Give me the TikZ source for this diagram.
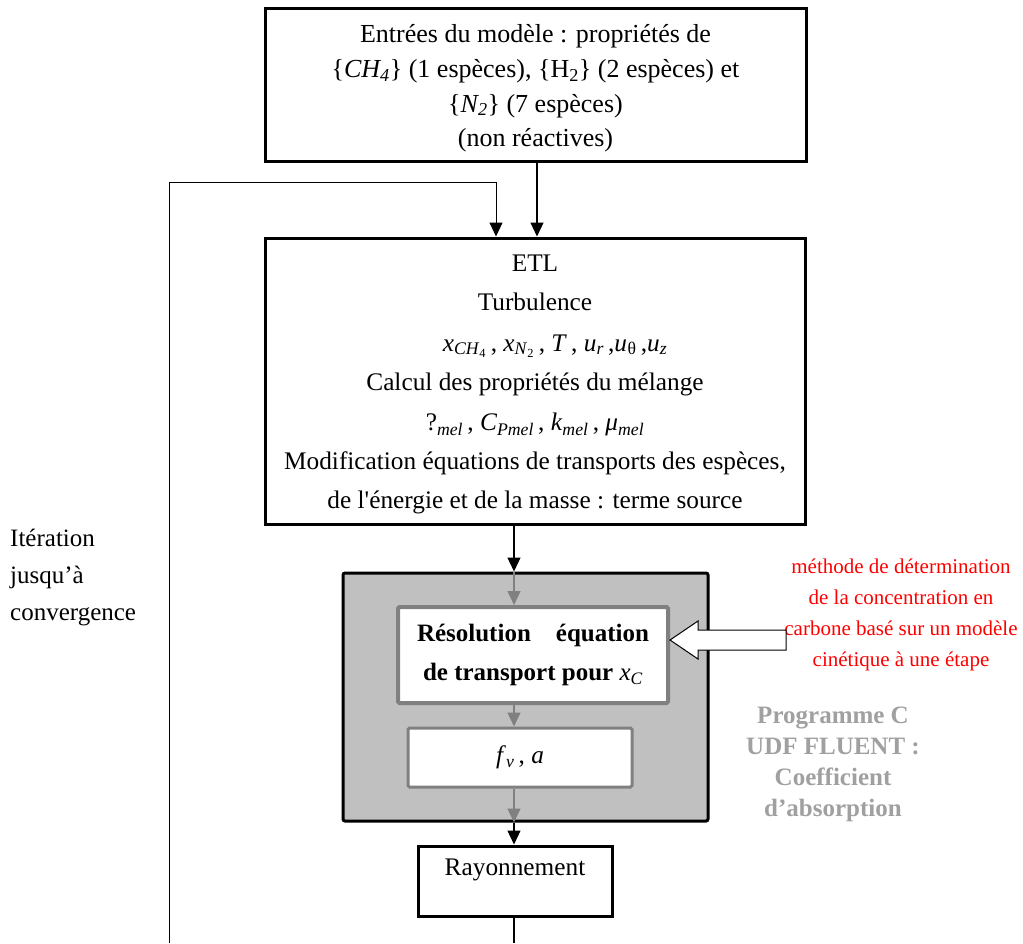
\documentclass[tikz,border=0pt]{standalone}
\usepackage{fontspec}
\setmainfont{Liberation Serif}
\usetikzlibrary{arrows.meta,calc}
\definecolor{boxgray}{RGB}{192,192,192}
\definecolor{edgegray}{RGB}{128,128,128}
\definecolor{txtgray}{RGB}{160,160,160}
\definecolor{redtxt}{RGB}{255,0,0}
\newcommand{\isub}[2]{\textit{#1}\textsubscript{\textit{#2}}}
\newcommand{\lowsub}[1]{\raisebox{-2pt}{\textsubscript{\textit{#1}}}}
\begin{document}
\begin{tikzpicture}[x=1pt,y=-1pt,
  box/.style={draw, line width=3pt, fill=white, inner sep=0pt},
  gbox/.style={draw=edgegray, line width=4pt, fill=white, rounded corners=1.5pt, inner sep=0pt},
  conn/.style={line width=1.2pt, -{Triangle[length=14pt,width=13pt]}},
  gconn/.style={conn, draw=edgegray, fill=edgegray},
  main/.style={font=\fontsize{25.3}{39}\selectfont, align=center, inner sep=0pt}]
\useasboundingbox (0,0) rectangle (1023,943);

\node[box, minimum width=541pt, minimum height=153pt] (inp) at (535.5,84.5) {};
\node[main, font=\fontsize{26}{34.7}\selectfont] (inptxt) at (535.5,88.5)
  {Entrées du modèle : propriétés de\\
   \{\textit{CH\textsubscript{4}}\} (1 espèces), \{H\textsubscript{2}\} (2 espèces) et\\
   \{\textit{N\textsubscript{2}}\} (7 espèces)\\
   (non réactives)};

\node[box, minimum width=540pt, minimum height=286pt] (etl) at (535,381) {};
\node[main] (etltxt) at (535,384)
  {ETL\\
   Turbulence\\[2pt]
   \hspace*{40pt}\textit{x}\textsubscript{\textit{CH}\textsubscript{4}}\,, \textit{x}\textsubscript{\textit{N}\textsubscript{2}}\,, \textit{T}\,, \isub{u}{r}\,,\isub{u}{}\textsubscript{θ}\,,\isub{u}{z}\\
   Calcul des propriétés du mélange\\[1pt]
   ?\lowsub{mel}\,, \textit{C}\lowsub{Pmel}\,, \textit{k}\lowsub{mel}\,, \textit{μ}\lowsub{mel}\\
   Modification équations de transports des espèces,\\
   de l\textquotesingle énergie et de la masse : terme source};

\node[draw, line width=3pt, fill=boxgray, rounded corners=2pt, minimum width=365pt, minimum height=248pt] (udf) at (525.5,697) {};

\node[gbox, font=\bfseries\fontsize{25}{39}\selectfont, align=center, minimum width=270pt, minimum height=96pt] (res) at (533,655)
  {\makebox[232pt][s]{Résolution équation}\\de transport pour \textnormal{\isub{x}{C}}};

\node[gbox, line width=3pt, main, minimum width=224pt, minimum height=59pt] (fv) at (520,757.5)
  {\isub{f}{v}\,, \textit{a}};

\node[box, minimum width=194pt, minimum height=70pt] (ray) at (515,881) {};
\node[main] (raylbl) at (515,870) {Rayonnement};

\node[font=\fontsize{21}{31}\selectfont, align=center, text=redtxt, inner sep=0pt] (meth) at (901,615)
  {méthode de détermination\\de la concentration en\\carbone basé sur un modèle\\cinétique à une étape};

\node[font=\bfseries\fontsize{25}{31}\selectfont, align=center, text=txtgray, inner sep=0pt] (prog) at (833,764)
  {Programme C\\UDF FLUENT :\\Coefficient\\d’absorption};

\node[font=\fontsize{25}{37}\selectfont, align=left, anchor=west, inner sep=0pt] (iter) at (10,577)
  {Itération\\jusqu’à\\convergence};

% hollow arrow
\draw[line width=1pt, fill=white] (786,630) -- (698,630) -- (698,621) -- (670,640) -- (698,659) -- (698,650) -- (786,650) -- cycle;

\coordinate (axis) at (514,0);
\coordinate (axisB) at (537,0);
\draw[conn] (axisB |- inp.south) -- (axisB |- etl.north);
\draw[conn] (axis |- etl.south) -- (axis |- udf.north);
\draw[gconn] (axis |- udf.north) -- (axis |- res.north);
\draw[gconn] (axis |- res.south) -- (axis |- fv.north);
\draw[gconn] (axis |- fv.south) -- (axis |- udf.south);
\draw[conn] (axis |- udf.south) -- (axis |- ray.north);
\coordinate (bot) at (514,943);
\draw[line width=1.2pt] (axis |- ray.south) -- (bot);

\coordinate (loopB) at (169,943);
\coordinate (loopT) at (169,182);
\coordinate (loopR) at (496,182);
\draw[conn, line width=1pt] (loopB) -- (loopT) -- (loopR) -- (loopR |- etl.north);
\end{tikzpicture}
\end{document}
